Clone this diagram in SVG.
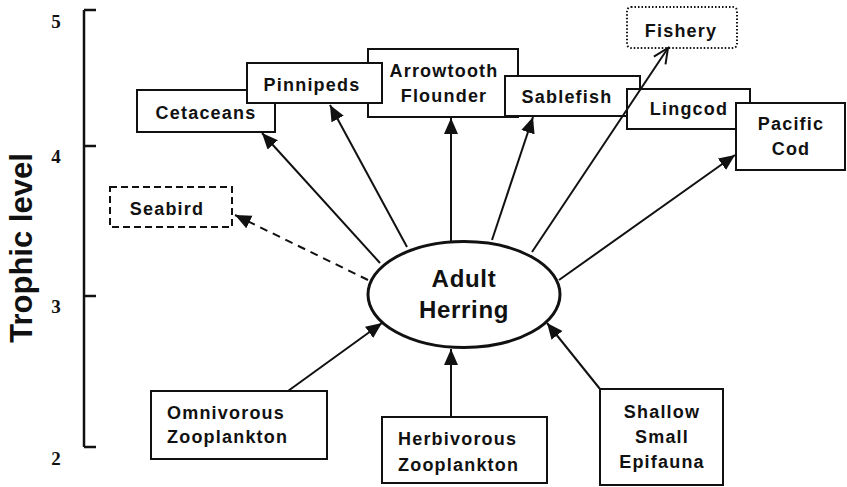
<svg xmlns="http://www.w3.org/2000/svg" width="847" height="487" viewBox="0 0 847 487">
<defs>
<marker id="ah" markerUnits="userSpaceOnUse" markerWidth="18" markerHeight="16" refX="16" refY="7" orient="auto"><path d="M0,0 L16,7 L0,14 z" fill="#111"/></marker>
<marker id="ao" markerUnits="userSpaceOnUse" markerWidth="20" markerHeight="18" refX="16" refY="8" orient="auto"><path d="M1,1 L16,8 L1,15" fill="none" stroke="#111" stroke-width="2"/></marker>
</defs>
<style>
.box{fill:#fff;stroke:#111;stroke-width:2}
.t{font-family:"Liberation Sans",Arial,sans-serif;font-weight:bold;font-size:18px;letter-spacing:1.2px;fill:#111}
.c{text-anchor:middle}
.ax{stroke:#111;stroke-width:2.5;fill:none}
.num{font-family:"Liberation Serif","Times New Roman",serif;font-weight:bold;font-size:19px;fill:#111;text-anchor:middle}
.ln{stroke:#111;stroke-width:2;fill:none}
</style>
<rect width="847" height="487" fill="#fff"/>
<g id="axis">
<path class="ax" d="M84,10 V447"/>
<path class="ax" d="M84,10 H96 M84,146 H96 M84,296 H96 M84,447 H96" stroke-width="3"/>
<text class="num" x="56" y="28">5</text>
<text class="num" x="56" y="163">4</text>
<text class="num" x="56" y="313">3</text>
<text class="num" x="56" y="465">2</text>
<text transform="translate(32,248) rotate(-90)" text-anchor="middle" font-family="'Liberation Sans',Arial,sans-serif" font-weight="bold" font-size="31" fill="#111">Trophic level</text>
</g>
<g id="cetaceans"><rect class="box" x="137" y="90" width="138" height="42"/><text class="t c" x="206" y="119">Cetaceans</text></g>
<g id="arrowtooth"><rect class="box" x="368" y="49" width="150" height="68"/><text class="t c" x="444" y="77">Arrowtooth</text><text class="t c" x="444" y="102">Flounder</text></g>
<g id="pinnipeds"><rect class="box" x="247" y="63" width="135" height="40"/><text class="t c" x="312" y="91">Pinnipeds</text></g>
<g id="sablefish"><rect class="box" x="505" y="76" width="135" height="40"/><text class="t c" x="567" y="103">Sablefish</text></g>
<g id="lingcod"><rect class="box" x="627" y="89" width="123" height="40"/><text class="t c" x="689" y="115">Lingcod</text></g>
<g id="pacificcod"><rect class="box" x="736" y="103" width="109" height="67"/><text class="t c" x="791" y="130">Pacific</text><text class="t c" x="791" y="155">Cod</text></g>
<g id="fishery"><rect x="627" y="7" width="110" height="41" rx="4" fill="#fff" stroke="#111" stroke-width="2" stroke-dasharray="1.5 2"/><text class="t c" x="681" y="37">Fishery</text></g>
<g id="seabird"><rect x="110" y="187" width="122" height="40" fill="#fff" stroke="#111" stroke-width="2" stroke-dasharray="7 4"/><text class="t c" x="167" y="215">Seabird</text></g>
<g id="herring"><ellipse cx="464" cy="294.5" rx="96" ry="53" fill="#fff" stroke="#111" stroke-width="3"/><text x="464" y="287" text-anchor="middle" font-family="'Liberation Sans',Arial,sans-serif" font-weight="bold" font-size="24" letter-spacing="0.7" fill="#111">Adult</text><text x="464" y="318" text-anchor="middle" font-family="'Liberation Sans',Arial,sans-serif" font-weight="bold" font-size="24" letter-spacing="0.7" fill="#111">Herring</text></g>
<g id="omnivorous"><rect class="box" x="151" y="391" width="176" height="68"/><text class="t" x="167" y="419">Omnivorous</text><text class="t" x="167" y="443">Zooplankton</text></g>
<g id="herbivorous"><rect class="box" x="382" y="417" width="165" height="66"/><text class="t" x="398" y="445">Herbivorous</text><text class="t" x="398" y="471">Zooplankton</text></g>
<g id="epifauna"><rect class="box" x="600" y="389" width="123" height="96"/><text class="t c" x="662" y="418">Shallow</text><text class="t c" x="662" y="443">Small</text><text class="t c" x="662" y="468">Epifauna</text></g>
<g id="connectors">
<path class="ln" d="M380,263 L262,133" marker-end="url(#ah)"/>
<path class="ln" d="M407,247 L330,105" marker-end="url(#ah)"/>
<path class="ln" d="M451,241 L451,118" marker-end="url(#ah)"/>
<path class="ln" d="M492,240 L533,117" marker-end="url(#ah)"/>
<path class="ln" d="M532,252 L668,48" marker-end="url(#ao)"/>
<path class="ln" d="M559,280 L735,155" marker-end="url(#ah)"/>
<path class="ln" d="M368,280 L235,215" stroke-dasharray="8 6" marker-end="url(#ah)"/>
<path class="ln" d="M288,391 L382,323" marker-end="url(#ah)"/>
<path class="ln" d="M451,417 L451,349" marker-end="url(#ah)"/>
<path class="ln" d="M600,389 L547,323" marker-end="url(#ah)"/>
</g>
</svg>
